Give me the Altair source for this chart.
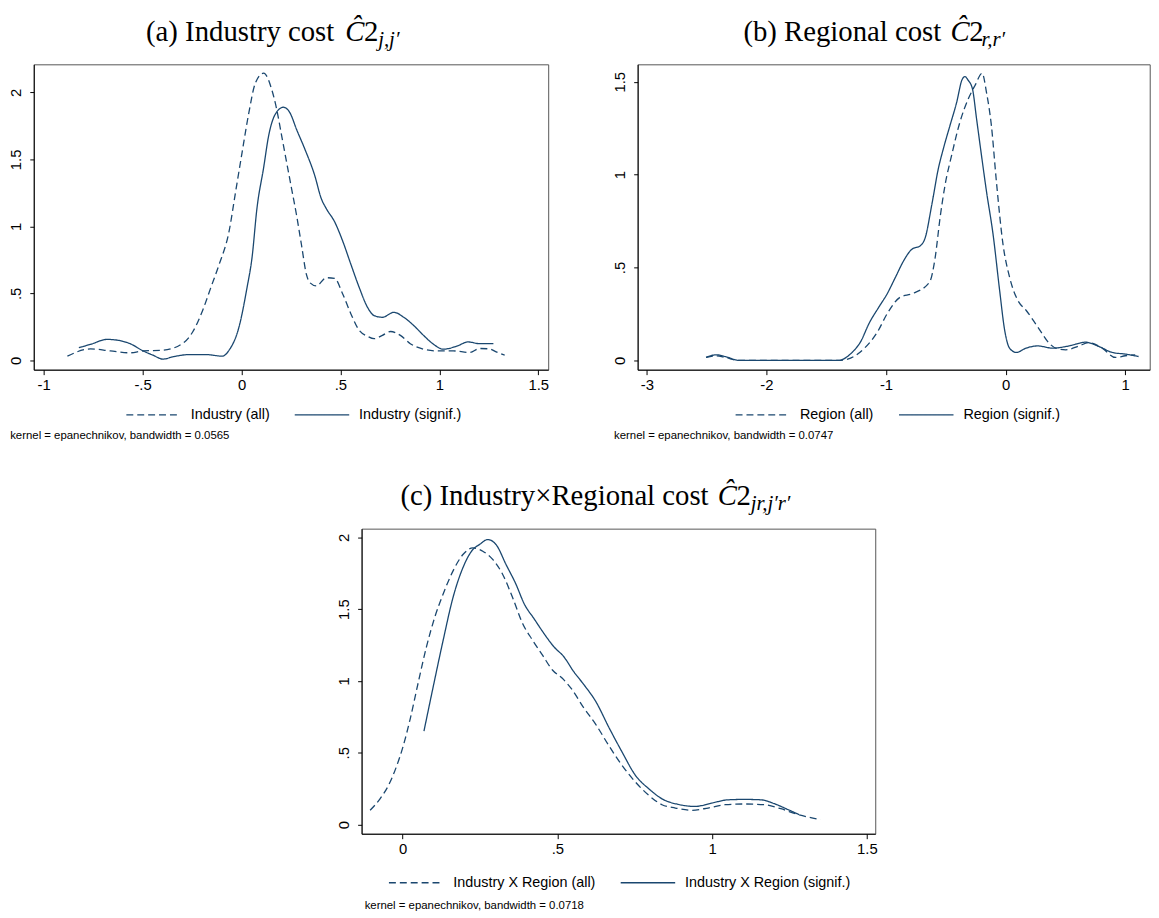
import altair as alt
import pandas as pd

NAVY = "#1a476f"
SANS = "Liberation Sans"
SERIF = "Liberation Serif"

# ---------------- data ----------------
# (a) Industry cost
a_all_x = [-0.88, -0.763, -0.663, -0.563, -0.497, -0.397, -0.288, -0.247, -0.197, -0.155, -0.113, -0.063,
           -0.03, 0.003, 0.037, 0.07, 0.112, 0.153, 0.178, 0.203, 0.228, 0.253, 0.278, 0.303, 0.328, 0.345,
           0.378, 0.428, 0.47, 0.512, 0.553, 0.595, 0.637, 0.67, 0.712, 0.753, 0.803, 0.853, 0.92, 0.987,
           1.07, 1.153, 1.203, 1.253, 1.287, 1.33]
a_all_y = [0.032, 0.086, 0.071, 0.057, 0.071, 0.076, 0.138, 0.212, 0.371, 0.544, 0.716, 0.962,
           1.257, 1.552, 1.847, 2.069, 2.143, 2.02, 1.872, 1.675, 1.478, 1.282, 1.085, 0.863, 0.642, 0.581,
           0.556, 0.617, 0.613, 0.494, 0.347, 0.224, 0.18, 0.162, 0.187, 0.216, 0.187, 0.125, 0.084, 0.071,
           0.071, 0.059, 0.089, 0.086, 0.064, 0.04]
a_sig_x = [-0.822, -0.763, -0.68, -0.622, -0.563, -0.497, -0.447, -0.397, -0.347, -0.263, -0.18, -0.097,
           -0.063, -0.013, 0.028, 0.053, 0.078, 0.112, 0.137, 0.17, 0.212, 0.245, 0.278, 0.32, 0.37, 0.403,
           0.428, 0.47, 0.512, 0.553, 0.595, 0.637, 0.67, 0.712, 0.77, 0.82, 0.87, 0.92, 0.97, 1.02, 1.087,
           1.145, 1.203, 1.273]
a_sig_y = [0.096, 0.12, 0.157, 0.15, 0.125, 0.071, 0.039, 0.01, 0.027, 0.044, 0.044, 0.032,
           0.076, 0.248, 0.544, 0.765, 1.134, 1.44, 1.675, 1.835, 1.889, 1.847, 1.724, 1.577, 1.38, 1.208,
           1.134, 1.036, 0.888, 0.716, 0.544, 0.396, 0.335, 0.322, 0.359, 0.322, 0.261, 0.187, 0.121, 0.084,
           0.106, 0.138, 0.125, 0.125]

# (b) Regional cost
b_all_x = [-2.505, -2.42, -2.34, -2.229, -1.8, -1.401, -1.32, -1.18, -1.07, -0.99, -0.88, -0.783, -0.636,
           -0.589, -0.548, -0.506, -0.451, -0.382, -0.313, -0.257, -0.196, -0.16, -0.119, -0.077, -0.022,
           0.033, 0.102, 0.171, 0.268, 0.365, 0.42, 0.503, 0.614, 0.697, 0.808, 0.918, 1.001, 1.084]
b_all_y = [0.016, 0.025, 0.015, 0.0, 0.0, 0.0, 0.007, 0.066, 0.155, 0.252, 0.341, 0.359, 0.421,
           0.554, 0.768, 0.945, 1.105, 1.283, 1.407, 1.479, 1.546, 1.443, 1.265, 0.963, 0.626,
           0.448, 0.323, 0.27, 0.181, 0.092, 0.066, 0.057, 0.078, 0.096, 0.066, 0.016, 0.025, 0.03]
b_sig_x = [-2.505, -2.42, -2.34, -2.229, -1.8, -1.401, -1.29, -1.212, -1.142, -1.059, -0.99, -0.921,
           -0.852, -0.783, -0.714, -0.672, -0.617, -0.562, -0.52, -0.465, -0.409, -0.365, -0.34, -0.315,
           -0.277, -0.243, -0.202, -0.16, -0.105, -0.05, -0.008, 0.033, 0.089, 0.171, 0.268, 0.393, 0.531,
           0.669, 0.78, 0.891, 1.001, 1.112]
b_sig_y = [0.016, 0.03, 0.02, 0.0, 0.0, 0.0, 0.039, 0.101, 0.199, 0.288, 0.359, 0.448,
           0.537, 0.599, 0.617, 0.661, 0.839, 1.034, 1.141, 1.265, 1.39, 1.51, 1.528, 1.51,
           1.461, 1.301, 1.105, 0.91, 0.679, 0.377, 0.163, 0.066, 0.043, 0.066, 0.078, 0.066, 0.078,
           0.098, 0.075, 0.043, 0.034, 0.021]

# (c) Industry x Regional cost
c_all_x = [-0.105, -0.073, -0.046, -0.019, 0.002, 0.024, 0.05, 0.077, 0.104, 0.131, 0.163, 0.195, 0.227,
           0.259, 0.291, 0.323, 0.355, 0.388, 0.42, 0.452, 0.484, 0.516, 0.548, 0.582, 0.624, 0.667, 0.71,
           0.753, 0.796, 0.838, 0.881, 0.934, 0.987, 1.041, 1.105, 1.169, 1.222, 1.275, 1.35]
c_all_y = [0.099, 0.179, 0.271, 0.409, 0.547, 0.731, 0.984, 1.237, 1.444, 1.605, 1.766, 1.88, 1.926,
           1.903, 1.846, 1.743, 1.582, 1.398, 1.283, 1.179, 1.076, 1.018, 0.938, 0.823, 0.697, 0.547, 0.409,
           0.294, 0.202, 0.138, 0.115, 0.099, 0.115, 0.138, 0.143, 0.138, 0.11, 0.071, 0.034]
c_sig_x = [0.069, 0.099, 0.131, 0.163, 0.195, 0.227, 0.248, 0.275, 0.302, 0.334, 0.366, 0.393, 0.425,
           0.457, 0.489, 0.521, 0.553, 0.582, 0.624, 0.667, 0.71, 0.753, 0.796, 0.838, 0.891, 0.945, 0.998,
           1.051, 1.105, 1.158, 1.201, 1.243, 1.281]
c_sig_y = [0.651, 0.961, 1.283, 1.582, 1.789, 1.915, 1.949, 1.984, 1.949, 1.811, 1.674, 1.536, 1.432,
           1.329, 1.237, 1.168, 1.064, 0.984, 0.857, 0.674, 0.501, 0.34, 0.248, 0.179, 0.14, 0.126, 0.149,
           0.172, 0.175, 0.172, 0.145, 0.106, 0.069]

a_series = ["Industry (all)", "Industry (signif.)"]
b_series = ["Region (all)", "Region (signif.)"]
c_series = ["Industry X Region (all)", "Industry X Region (signif.)"]

a_xticks = [-1, -0.5, 0, 0.5, 1, 1.5]
a_xlabels = ["-1", "-.5", "0", ".5", "1", "1.5"]
a_yticks = [0, 0.5, 1, 1.5, 2]
a_ylabels = ["0", ".5", "1", "1.5", "2"]
b_xticks = [-3, -2, -1, 0, 1]
b_xlabels = ["-3", "-2", "-1", "0", "1"]
b_yticks = [0, 0.5, 1, 1.5]
b_ylabels = ["0", ".5", "1", "1.5"]
c_xticks = [0, 0.5, 1, 1.5]
c_xlabels = ["0", ".5", "1", "1.5"]
c_yticks = [0, 0.5, 1, 1.5, 2]
c_ylabels = ["0", ".5", "1", "1.5", "2"]

a_note = "kernel = epanechnikov, bandwidth = 0.0565"
b_note = "kernel = epanechnikov, bandwidth = 0.0747"
c_note = "kernel = epanechnikov, bandwidth = 0.0718"

a_title = ("(a) Industry cost", "j,j\u2032")
b_title = ("(b) Regional cost", "r,r\u2032")
c_title = ("(c) Industry\u00d7Regional cost", "jr,j\u2032r\u2032")


def label_expr(values, labels):
    s = ""
    for v, l in zip(values, labels):
        s += f"abs(datum.value - ({v})) < 1e-6 ? '{l}' : "
    return s + "''"


def make_df(series, ax, ay, sx, sy):
    rows = [{"x": x, "y": y, "s": series[0]} for x, y in zip(ax, ay)]
    rows += [{"x": x, "y": y, "s": series[1]} for x, y in zip(sx, sy)]
    return pd.DataFrame(rows)


def panel(df, series, xdom, ydom, xt, xl, yt, yl, w, h, note, note_x, note_y,
          leg_x, leg_y, title, tpos):
    lines = alt.Chart(df).mark_line(color=NAVY, strokeWidth=1.3, interpolate="monotone").encode(
        x=alt.X("x:Q", scale=alt.Scale(domain=xdom, nice=False, zero=False),
                axis=alt.Axis(values=xt, labelExpr=label_expr(xt, xl), title=note,
                              titleX=note_x, titleY=note_y, titleAlign="left", titleBaseline="middle",
                              titleFont=SANS, titleFontSize=11.5, titleFontWeight="normal",
                              titleColor="black", labelFlush=False, labelOverlap=False,
                              tickSize=5, labelPadding=3, labelFontSize=15)),
        y=alt.Y("y:Q", scale=alt.Scale(domain=ydom, nice=False, zero=False), title=None,
                axis=alt.Axis(values=yt, labelExpr=label_expr(yt, yl), labelAngle=270,
                              labelAlign="center", labelBaseline="alphabetic", labelFlush=False,
                              labelOverlap=False, tickSize=4, labelPadding=9, labelFontSize=15)),
        strokeDash=alt.StrokeDash(
            "s:N",
            scale=alt.Scale(domain=series, range=[[7, 4], [1, 0]]),
            legend=alt.Legend(title=None, orient="none", legendX=leg_x, legendY=leg_y,
                              direction="horizontal", symbolType="stroke", symbolSize=3025,
                              symbolStrokeWidth=1.3, symbolStrokeColor=NAVY, labelFont=SANS,
                              labelFontSize=14.5, labelColor="black", labelOffset=9,
                              columnPadding=22, padding=0, labelLimit=400)),
    )
    one = pd.DataFrame({"k": [0]})
    main_txt, sub_txt = title
    x_end, x_c, x_sub, y_base = tpos
    base = alt.Chart(one)
    t1 = base.mark_text(text=main_txt, font=SERIF, fontSize=29, align="right", baseline="alphabetic",
                        color="black").encode(x=alt.value(x_end), y=alt.value(y_base))
    t2 = base.mark_text(text="\u0108", font=SERIF, fontSize=29, fontStyle="italic", align="left",
                        baseline="alphabetic", color="black").encode(x=alt.value(x_c), y=alt.value(y_base))
    t3 = base.mark_text(text="2", font=SERIF, fontSize=29, align="left", baseline="alphabetic",
                        color="black").encode(x=alt.value(x_c + 19), y=alt.value(y_base))
    t4 = base.mark_text(text=sub_txt, font=SERIF, fontSize=21, fontStyle="italic", align="left",
                        baseline="alphabetic", color="black").encode(x=alt.value(x_sub), y=alt.value(y_base + 5))
    return alt.layer(lines, t1, t2, t3, t4).properties(width=w, height=h)


pa = panel(make_df(a_series, a_all_x, a_all_y, a_sig_x, a_sig_y), a_series,
           [-1.05, 1.55], [-0.069, 2.209], a_xticks, a_xlabels, a_yticks, a_ylabels,
           519.4, 308.3, a_note, -24.3, 66.7, 92.5, 325.5, a_title, (303.4, 314.5, 347.7, -23.3))
pb = panel(make_df(b_series, b_all_x, b_all_y, b_sig_x, b_sig_y), b_series,
           [-3.077, 1.205], [-0.05, 1.594], b_xticks, b_xlabels, b_yticks, b_ylabels,
           517, 308.3, b_note, -24.3, 66.7, 97.9, 325.5, b_title, (306.5, 315.8, 347.1, -23.3))
pc = panel(make_df(c_series, c_all_x, c_all_y, c_sig_x, c_sig_y), c_series,
           [-0.1325, 1.527], [-0.064, 2.06], c_xticks, c_xlabels, c_yticks, c_ylabels,
           518.6, 308, c_note, 2.6, 72.5, 26.6, 329, c_title, (350.3, 359.6, 392.8, -24))

spacer = alt.Chart(pd.DataFrame({"k": [0]})).mark_point(opacity=0, size=1, strokeWidth=0).encode(
    x=alt.value(20), y=alt.value(5)).properties(width=284.4, height=10,
                                               view=alt.ViewBackground(stroke="transparent"))

top = alt.hconcat(pa, pb, spacing=62.7).resolve_scale(strokeDash="independent").resolve_legend(
    strokeDash="independent")
bottom = alt.hconcat(spacer, pc, spacing=20).resolve_scale(strokeDash="independent").resolve_legend(
    strokeDash="independent")

chart = alt.vconcat(top, bottom, spacing=39.8).resolve_scale(strokeDash="independent").resolve_legend(
    strokeDash="independent").properties(
    padding={"left": 0, "top": 5.5, "right": 0, "bottom": 0}, background="white"
).configure_view(stroke="#555", strokeWidth=1).configure_axis(
    grid=False, labelFont=SANS, labelColor="black", domainColor="black", tickColor="black",
    domainWidth=1, tickWidth=1
)

chart.save("out.html", embed_options={"renderer": "svg", "actions": False})
